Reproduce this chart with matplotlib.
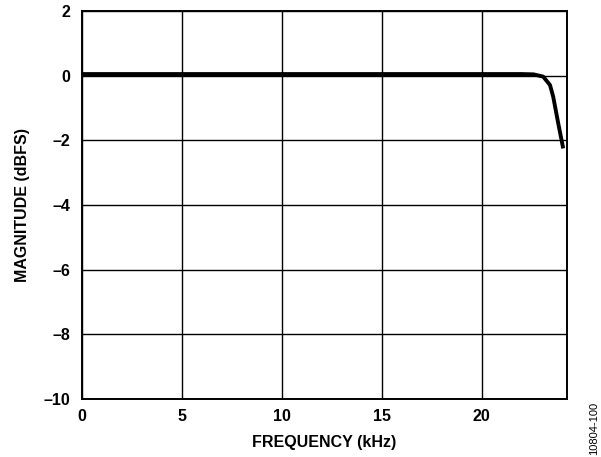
import matplotlib.pyplot as plt

plt.rcParams['font.family'] = ['Liberation Sans', 'DejaVu Sans']

# Frequency response
freq_khz = [0.0, 5.0, 10.0, 15.0, 20.0, 22.0, 22.6, 23.08, 23.42, 23.58, 23.83, 24.08]
mag_dbfs = [0.05, 0.05, 0.05, 0.05, 0.05, 0.05, 0.04, -0.03, -0.29, -0.65, -1.47, -2.25]

x_ticks = [0, 5, 10, 15, 20]
y_ticks = [2, 0, -2, -4, -6, -8, -10]

fig = plt.figure(figsize=(6.01, 4.57), dpi=100)
ax = fig.add_axes([81.7 / 601, 1 - 399 / 457, (567 - 81.7) / 601, (399 - 11) / 457])

ax.plot(freq_khz, mag_dbfs, color='black', linewidth=2.8, solid_capstyle='butt', zorder=3)

ax.set_xlim(0, 24.27)
ax.set_ylim(-10, 2)
ax.set_xticks(x_ticks)
ax.set_yticks(y_ticks)
ax.set_xticklabels([str(t) for t in x_ticks], fontweight='bold', fontsize=11.5)
ax.set_yticklabels([str(t).replace('-', '\u2013') for t in y_ticks], fontweight='bold', fontsize=11.5)
ax.tick_params(axis='x', length=0, pad=7)
ax.tick_params(axis='y', length=0, pad=8)
ax.grid(True, color='black', linewidth=1.0)
for s in ax.spines.values():
    s.set_linewidth(1.4)

ax.set_xlabel('FREQUENCY (kHz)', fontweight='bold', fontsize=11.5, labelpad=8)
ax.set_ylabel('MAGNITUDE (dBFS)', fontweight='bold', fontsize=11.5, labelpad=10)

fig.text(0.996, 1 - 428 / 457, '10804-100', rotation=90, fontsize=8, ha='right', va='center')

fig.savefig('out.png', dpi=100)
